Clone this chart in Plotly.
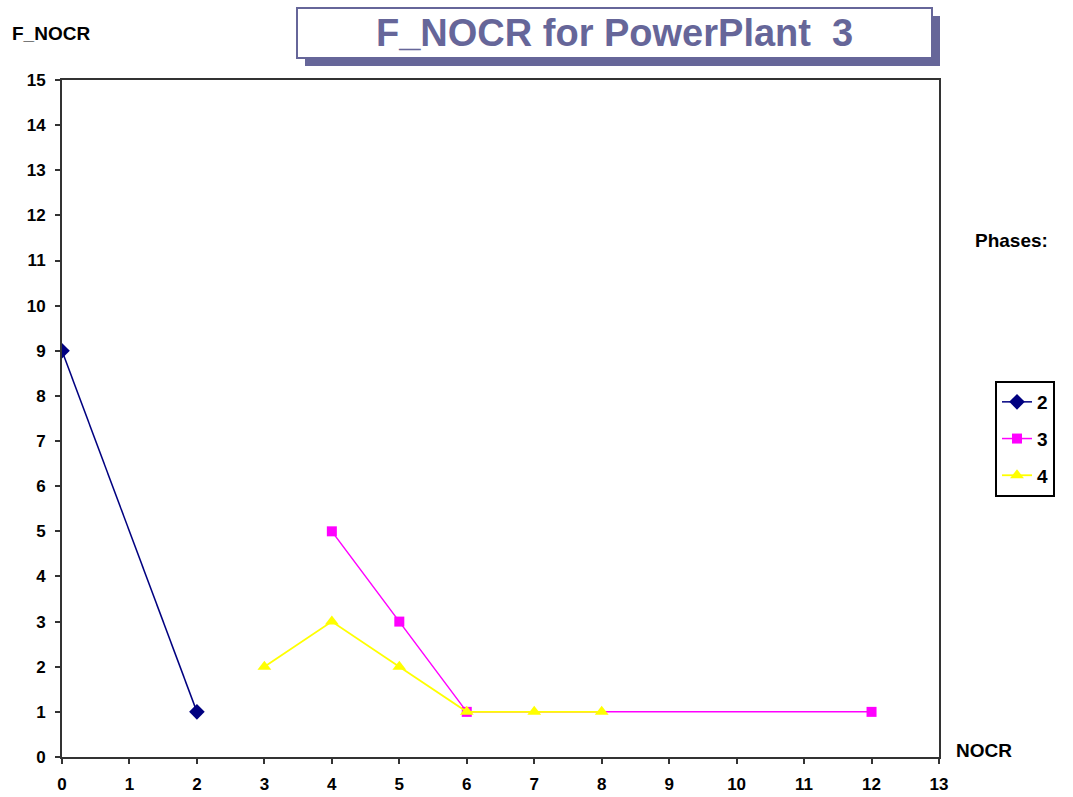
import plotly.graph_objects as go

# Data
s2_x = [0, 2]
s2_y = [9, 1]
s3_x = [4, 5, 6, 12]
s3_y = [5, 3, 1, 1]
s4_x = [3, 4, 5, 6, 7, 8]
s4_y = [2, 3, 2, 1, 1, 1]
series_names = ["2", "3", "4"]
x_ticks = list(range(0, 14))
y_ticks = list(range(0, 16))

W, H = 1073, 797
L, R, T, B = 62, 939, 80, 757

def px(x):
    return (x - L) / (R - L)

def py(y):
    return (B - y) / (B - T)

FONT = "Liberation Sans, Arial, sans-serif"

fig = go.Figure()
fig.add_trace(go.Scatter(x=s2_x, y=s2_y, name=series_names[0], mode="lines+markers",
                         legendgroup="a",
                         line=dict(color="#000080", width=1.5),
                         marker=dict(symbol="diamond", size=12, color="#000080")))
fig.add_trace(go.Scatter(x=s3_x, y=s3_y, name=series_names[1], mode="lines+markers",
                         legendgroup="b",
                         line=dict(color="#FF00FF", width=1.5),
                         marker=dict(symbol="square", size=10, color="#FF00FF")))
fig.add_trace(go.Scatter(x=s4_x, y=s4_y, name=series_names[2], mode="lines+markers",
                         legendgroup="c",
                         line=dict(color="#FFFF00", width=1.8),
                         marker=dict(symbol="triangle-up", size=12, color="#FFFF00")))

axis_common = dict(showgrid=False, zeroline=False, showline=True, linecolor="#333333",
                   linewidth=2, mirror=True, ticks="outside", ticklen=5, tickwidth=2,
                   tickcolor="#333333", ticklabelstandoff=6, automargin=False,
                   tickfont=dict(family=FONT, size=17, color="black", weight="bold"))

fig.update_xaxes(range=[0, 13], tickvals=x_ticks, **axis_common)
fig.update_yaxes(range=[0, 15], tickvals=y_ticks, **axis_common)

shapes = [
    # shadow
    dict(type="rect", xref="paper", yref="paper", x0=px(305), x1=px(940), y0=py(66), y1=py(16),
         fillcolor="#666699", line=dict(width=0), layer="above"),
    # box
    dict(type="rect", xref="paper", yref="paper", x0=px(297), x1=px(932), y0=py(58), y1=py(8),
         fillcolor="white", line=dict(color="#666699", width=2), layer="above"),
]

annotations = [
    dict(text="F_NOCR for PowerPlant  3", xref="paper", yref="paper", x=px(614), y=py(33),
         showarrow=False, xanchor="center", yanchor="middle",
         font=dict(family=FONT, size=38, color="#666699", weight="bold")),
    dict(text="F_NOCR", xref="paper", yref="paper", x=px(10), y=py(34), showarrow=False,
         xanchor="left", yanchor="middle", font=dict(family=FONT, size=19, color="black", weight="bold")),
    dict(text="NOCR", xref="paper", yref="paper", x=px(954), y=py(750), showarrow=False,
         xanchor="left", yanchor="middle", font=dict(family=FONT, size=19, color="black", weight="bold")),
    dict(text="Phases:", xref="paper", yref="paper", x=px(973), y=py(240), showarrow=False,
         xanchor="left", yanchor="middle", font=dict(family=FONT, size=19, color="black", weight="bold")),
]

fig.update_layout(
    width=W, height=H,
    margin=dict(l=L, r=W - R, t=T, b=H - B, autoexpand=False),
    plot_bgcolor="white", paper_bgcolor="white",
    shapes=shapes, annotations=annotations,
    legend=dict(x=px(995), y=py(381), xanchor="left", yanchor="top",
                bordercolor="black", borderwidth=2, bgcolor="white",
                font=dict(family=FONT, size=19, color="black", weight="bold"),
                tracegroupgap=9),
    showlegend=True,
)

fig.write_html("out.html", config={"displayModeBar": False},
               post_script="document.body.style.margin='0';")
